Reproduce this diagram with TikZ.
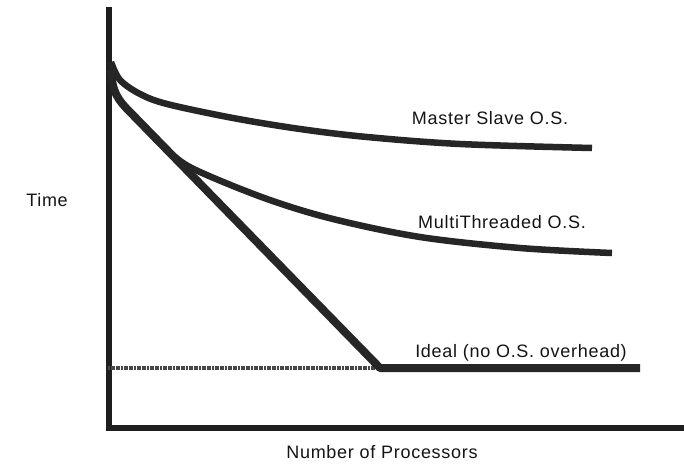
\documentclass[tikz,border=0pt]{standalone}
\usepackage{fontspec}
\setmainfont{Liberation Sans}[LetterSpace=4]
\begin{document}
\begin{tikzpicture}[x=1pt,y=-1pt,
  axis/.style={line width=6pt, draw=black!88},
  curve/.style={line width=6.5pt, draw=black!85, line join=round},
  idealcurve/.style={line width=8pt, draw=black!85, line join=round},
  baseline/.style={line width=3.5pt, draw=black!72, dash pattern=on 2pt off 0.6pt},
  lbl/.style={font=\fontsize{18}{21}\selectfont, text=black!92, inner sep=0pt}]
\useasboundingbox (0,0) rectangle (684,468);
\fill[white] (0,0) rectangle (684,468);
% named coordinates
\coordinate (ytop) at (109,7);
\coordinate (origin) at (109,428);
\coordinate (xend) at (684,428);
\coordinate (knee) at (380,368);
\coordinate (idealend) at (640,368);
\coordinate (basestart) at (108,368);
% axes
\draw[axis] (ytop) -- ([yshift=3pt]origin);
\draw[axis] ([xshift=-3pt]origin) -- (xend);
% baseline (hatched)
\draw[baseline] (basestart) -- (knee);
% Ideal
\draw[idealcurve] (111,70) .. controls (112,92) and (118,100) .. (130,112) -- (knee) -- (idealend);
% MultiThreaded
\draw[curve] plot[smooth, tension=0.55] coordinates {(150,133) (175,157) (200,172) (267,199) (333,219) (420,237) (520,248) (612,253)};
% Master Slave
\draw[curve] plot[smooth, tension=0.55] coordinates {(111,62) (120,80) (140,94) (167,104) (233,118) (300,129) (367,137) (460,144) (592,148)};
% labels
\node[lbl] (ms) at (490,118) {Master Slave O.S.};
\node[lbl] (mt) at (502,222) {MultiThreaded O.S.};
\node[lbl] (id) at (521,353) {Ideal (no O.S. overhead)};
\node[lbl] (ty) at (47,200) {Time};
\node[lbl] (tx) at (382,452) {Number of Processors};
\end{tikzpicture}
\end{document}
